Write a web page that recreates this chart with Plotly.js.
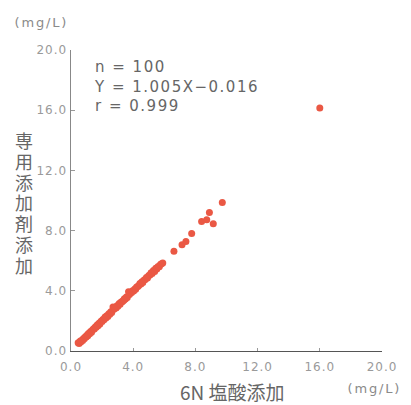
<!DOCTYPE html>
<html>
<head>
<meta charset="utf-8">
<script src="https://cdn.plot.ly/plotly-3.0.1.min.js"></script>
<style>
html,body{margin:0;padding:0;background:#fff;}
#chart{width:411px;height:405px;}
.xtick text,.ytick text{letter-spacing:1px;}
g.annotation[data-index="0"] text{letter-spacing:1.5px;}
g.annotation[data-index="1"] text,g.annotation[data-index="2"] text{letter-spacing:1.8px;}
</style>
</head>
<body>
<div id="chart"></div>
<script>
// 6N hydrochloric acid addition (x) vs. dedicated additive (y), mg/L
const xVals = [
  0.46,0.52,0.58,0.63,0.70,0.75,0.80,0.86,0.92,0.98,
  1.03,1.08,1.15,1.20,1.26,1.32,1.38,1.45,1.50,1.56,
  1.62,1.68,1.75,1.80,1.86,1.93,2.00,2.05,2.12,2.18,
  2.25,2.30,2.37,2.43,2.50,2.56,2.62,2.70,2.76,2.82,
  2.90,2.96,3.02,3.10,3.16,3.22,3.30,3.36,3.43,3.50,
  3.56,3.62,3.70,3.76,3.82,3.90,3.96,4.03,4.10,4.16,
  4.22,4.30,4.36,4.43,4.50,4.56,4.62,4.70,4.78,4.85,
  4.92,5.00,5.08,5.15,5.22,5.30,5.38,5.45,5.52,5.60,
  5.68,5.75,5.82,5.90,
  0.60,1.10,1.70,2.20,2.80,3.40,
  6.62,7.14,7.39,7.76,8.40,8.73,9.15,8.90,9.73,16.00
];
const yVals = [
  0.55,0.50,0.62,0.60,0.72,0.70,0.83,0.82,0.95,0.93,
  1.05,1.02,1.18,1.15,1.30,1.25,1.40,1.48,1.46,1.60,
  1.58,1.72,1.70,1.85,1.80,1.98,1.96,2.10,2.08,2.22,
  2.20,2.35,2.30,2.48,2.45,2.60,2.55,2.92,2.78,2.85,
  2.86,3.00,2.98,3.15,3.10,3.25,3.28,3.35,3.48,3.45,
  3.58,3.55,3.93,3.75,3.85,3.88,4.00,3.98,4.12,4.10,
  4.25,4.28,4.35,4.48,4.45,4.60,4.55,4.72,4.75,4.88,
  4.85,5.02,5.05,5.20,5.15,5.35,5.28,5.50,5.45,5.62,
  5.60,5.75,5.80,5.85,
  0.66,1.13,1.66,2.26,2.88,3.38,
  6.62,7.06,7.28,7.81,8.61,8.72,8.46,9.21,9.87,16.15
];
const tickVals = [0, 4, 8, 12, 16, 20];
const tickText = ['0.0', '4.0', '8.0', '12.0', '16.0', '20.0'];
const statsLines = ['n = 100', 'Y = 1.005X−0.016', 'r = 0.999'];
const xTitle = '6N 塩酸添加';
const yTitle = '専用添加剤添加';
const unitLabel = '(mg/L)';

const numFont = {family: 'DejaVu Sans, sans-serif', size: 12, color: '#9a9a9a'};

const annotations = [
  {xref: 'paper', yref: 'paper', x: 0.068, y: 0.98, xanchor: 'left', yanchor: 'top',
   align: 'left', showarrow: false, text: statsLines.join('<br>'),
   font: {family: 'DejaVu Sans, sans-serif', size: 15, color: '#666'}},
  {xref: 'paper', yref: 'paper', x: -0.17, y: 1.093, xanchor: 'left', yanchor: 'middle',
   showarrow: false, text: unitLabel, font: {family: 'DejaVu Sans, sans-serif', size: 13, color: '#8a8a8a'}},
  {xref: 'paper', yref: 'paper', x: 0.9, y: -0.125, xanchor: 'left', yanchor: 'middle',
   showarrow: false, text: unitLabel, font: {family: 'DejaVu Sans, sans-serif', size: 13, color: '#8a8a8a'}},
  {xref: 'paper', yref: 'paper', x: 0.52, y: -0.133, xanchor: 'center', yanchor: 'middle',
   showarrow: false, text: xTitle, font: {family: 'Noto Sans CJK JP, Noto Sans, sans-serif', size: 19, color: '#666'}},
  // y-axis title; set to vertical writing after drawing
  {xref: 'paper', yref: 'paper', x: -0.152, y: 0.49, xanchor: 'center', yanchor: 'middle',
   showarrow: false, text: yTitle,
   font: {family: 'Noto Sans CJK JP, sans-serif', size: 18, color: '#666'}}
];

const trace = {
  type: 'scatter', mode: 'markers', x: xVals, y: yVals,
  marker: {size: 7, color: 'rgb(234,88,68)', line: {width: 0}},
  hoverinfo: 'skip'
};

const layout = {
  width: 411, height: 405,
  margin: {l: 71, r: 29, t: 50, b: 54, pad: 0},
  paper_bgcolor: '#fff', plot_bgcolor: '#fff',
  showlegend: false,
  xaxis: {
    range: [0, 20], tickvals: tickVals, ticktext: tickText,
    showgrid: false, zeroline: false, showline: true, linecolor: '#555', linewidth: 1,
    ticks: 'inside', ticklen: 3, tickcolor: '#999', tickfont: numFont, fixedrange: true,
    ticklabelstandoff: 5
  },
  yaxis: {
    range: [0, 20], tickvals: tickVals, ticktext: tickText,
    showgrid: false, zeroline: false, showline: true, linecolor: '#888', linewidth: 1.5,
    ticks: 'inside', ticklen: 4, tickcolor: '#999', tickfont: numFont, fixedrange: true
  },
  annotations: annotations
};

Plotly.newPlot('chart', [trace], layout, {displayModeBar: false, staticPlot: true}).then(gd => {
  // render the stacked Japanese y title in vertical writing mode (upright CJK glyphs)
  const g = gd.querySelector('g.annotation[data-index="4"]');
  if (!g) return;
  const tg = g.querySelector('g.annotation-text-g');
  const t = g.querySelector('text.annotation-text');
  if (!tg || !t) return;
  const inner = t.parentNode;
  tg.removeAttribute('transform');
  if (inner && inner !== tg) inner.removeAttribute('transform');
  g.querySelectorAll('rect').forEach(r => r.setAttribute('width', 0));
  t.querySelectorAll('tspan').forEach(s => { s.removeAttribute('x'); s.removeAttribute('dy'); });
  t.setAttribute('x', 24);
  t.setAttribute('y', 205);
  t.style.writingMode = 'vertical-rl';
  t.style.textOrientation = 'upright';
  t.setAttribute('text-anchor', 'middle');
  t.style.letterSpacing = '2.7px';
});
</script>
</body>
</html>
